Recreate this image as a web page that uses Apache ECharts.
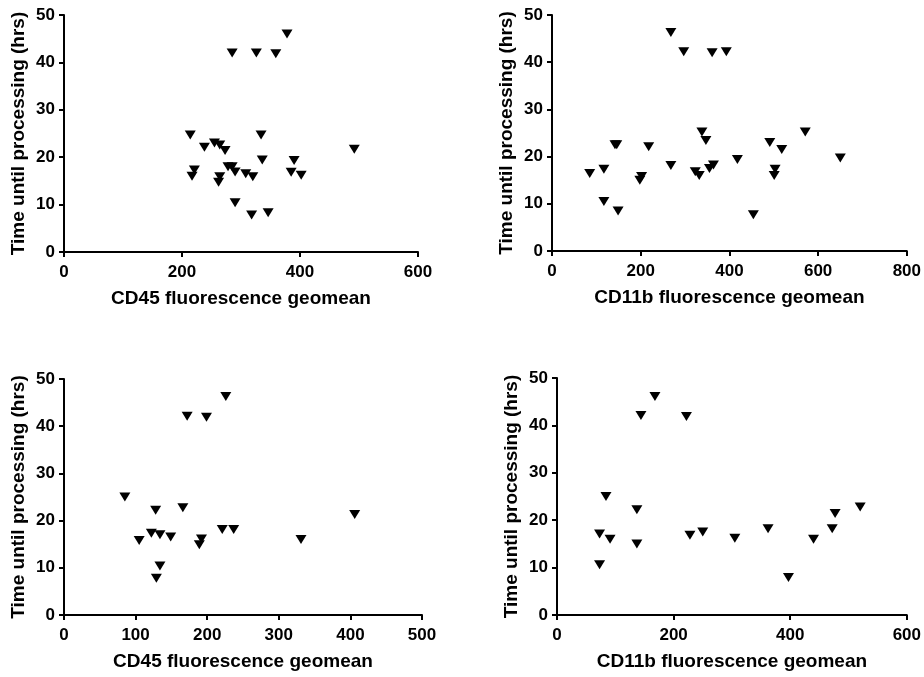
<!DOCTYPE html>
<html>
<head>
<meta charset="utf-8">
<script src="https://cdn.jsdelivr.net/npm/echarts@6/dist/echarts.min.js"></script>
<style>
  html, body { margin: 0; padding: 0; background: #fff; }
  #chart { width: 924px; height: 677px; }
</style>
</head>
<body>
<div id="chart"></div>
<script>
// 数据
var yTicks = [0, 10, 20, 30, 40, 50];

// top left: CD45 vs time
var cd45aX = [378, 285, 326, 359, 214, 334, 255, 264, 238, 492, 273, 336, 390, 221, 217, 278, 285, 290, 308, 320, 385, 402, 264, 262, 290, 318, 346];
var cd45aY = [46.0, 42.0, 42.0, 41.8, 24.7, 24.7, 23.0, 22.6, 22.1, 21.7, 21.4, 19.4, 19.3, 17.3, 16.0, 18.0, 18.0, 16.9, 16.5, 15.9, 16.8, 16.2, 15.9, 14.7, 10.4, 7.8, 8.3];

// top right: CD11b vs time
var cd11aX = [268, 297, 361, 393, 85, 117, 117, 142, 146, 149, 198, 202, 218, 268, 323, 332, 338, 347, 355, 364, 418, 454, 491, 503, 501, 518, 571, 650];
var cd11aY = [46.3, 42.2, 42.0, 42.2, 16.4, 17.3, 10.5, 22.5, 22.5, 8.5, 15.0, 15.8, 22.1, 18.1, 16.8, 16.0, 25.2, 23.4, 17.5, 18.2, 19.4, 7.7, 23.0, 17.3, 16.0, 21.5, 25.2, 19.7];

// bottom left: CD45 vs time
var cd45bX = [226, 172, 199, 85, 128, 166, 406, 105, 122, 134, 149, 189, 192, 221, 237, 134, 129, 331];
var cd45bY = [46.3, 42.1, 41.9, 25.0, 22.2, 22.7, 21.3, 15.8, 17.3, 17.0, 16.5, 14.9, 16.1, 18.1, 18.1, 10.4, 7.8, 16.0];

// bottom right: CD11b vs time
var cd11bX = [168, 144, 222, 84, 73, 91, 73, 137, 137, 228, 250, 305, 362, 397, 440, 472, 477, 520];
var cd11bY = [46.1, 42.1, 41.9, 25.0, 17.1, 16.0, 10.6, 22.2, 15.0, 16.8, 17.5, 16.2, 18.2, 7.9, 16.0, 18.2, 21.4, 22.8];

var yName = 'Time until processing (hrs)';
var font = 'Liberation Sans, Arial, sans-serif';

function zip(xs, ys) {
    var out = [];
    for (var i = 0; i < xs.length; i++) {
        out.push([xs[i], ys[i]]);
    }
    return out;
}

var axisLine = { show: true, onZero: false, lineStyle: { color: '#000', width: 2 } };
var axisTick = { show: true, inside: false, length: 5, lineStyle: { color: '#000', width: 2 } };

function xAxis(idx, max, step, name) {
    return {
        type: 'value', gridIndex: idx, min: 0, max: max, interval: step,
        name: name, nameLocation: 'middle', nameGap: 37,
        nameTextStyle: { color: '#000', fontWeight: 'bold', fontSize: 19, fontFamily: font },
        axisLine: axisLine, axisTick: axisTick, splitLine: { show: false },
        axisLabel: { color: '#000', fontWeight: 'bold', fontSize: 17, fontFamily: font, margin: 12 }
    };
}
function yAxis(idx) {
    return {
        type: 'value', gridIndex: idx, min: yTicks[0], max: yTicks[yTicks.length - 1], interval: 10,
        name: yName, nameLocation: 'middle', nameGap: 36,
        nameTextStyle: { color: '#000', fontWeight: 'bold', fontSize: 19, fontFamily: font },
        axisLine: axisLine, axisTick: axisTick, splitLine: { show: false },
        axisLabel: { color: '#000', fontWeight: 'bold', fontSize: 17, fontFamily: font, margin: 9 }
    };
}
function scatter(idx, xs, ys) {
    return {
        type: 'scatter', xAxisIndex: idx, yAxisIndex: idx,
        data: zip(xs, ys),
        symbol: 'triangle', symbolRotate: 180, symbolSize: [11, 9],
        itemStyle: { color: '#000', opacity: 1 }
    };
}

var e = echarts.init(document.getElementById('chart'), null, { renderer: 'canvas' });
var option = {
    backgroundColor: '#fff',
    animation: false,
    grid: [
        { left: 64, top: 15, width: 354, height: 237 },
        { left: 552, top: 15, width: 355, height: 236 },
        { left: 64, top: 379, width: 358, height: 236 },
        { left: 557, top: 378, width: 354, height: 237 }
    ],
    xAxis: [
        xAxis(0, 600, 200, 'CD45 fluorescence geomean'),
        xAxis(1, 800, 200, 'CD11b fluorescence geomean'),
        xAxis(2, 500, 100, 'CD45 fluorescence geomean'),
        xAxis(3, 600, 200, 'CD11b fluorescence geomean')
    ],
    yAxis: [yAxis(0), yAxis(1), yAxis(2), yAxis(3)],
    series: [
        scatter(0, cd45aX, cd45aY),
        scatter(1, cd11aX, cd11aY),
        scatter(2, cd45bX, cd45bY),
        scatter(3, cd11bX, cd11bY)
    ]
};
e.setOption(option);
</script>
</body>
</html>
